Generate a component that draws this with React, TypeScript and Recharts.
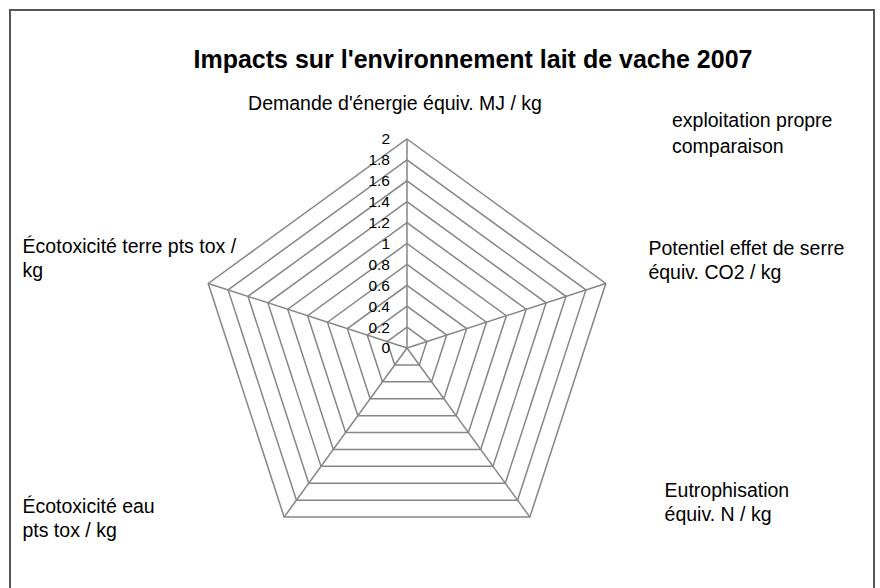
import React from 'react'
import { RadarChart, Radar, PolarGrid, PolarAngleAxis, PolarRadiusAxis, Legend } from 'recharts'

// axes of the radar, '\n' marks where the label wraps
const categories = [
  "Demande d'énergie équiv. MJ / kg",
  'Potentiel effet de serre\néquiv. CO2 / kg',
  'Eutrophisation\néquiv. N / kg',
  'Écotoxicité eau\npts tox / kg',
  'Écotoxicité terre pts tox /\nkg',
]
// nothing is drawn in the reference: every point sits at the centre
const exploitationPropre = [0, 0, 0, 0, 0]
const comparaison = [0, 0, 0, 0, 0]
const seriesNames = ['exploitation propre', 'comparaison']
const radiusDomain = [0, 2]
const radiusTicks = [0, 0.2, 0.4, 0.6, 0.8, 1, 1.2, 1.4, 1.6, 1.8, 2]

const data = categories.map((c, i) => ({
  axis: c,
  propre: exploitationPropre[i],
  comp: comparaison[i],
}))

const FONT = '"Liberation Sans", Arial, sans-serif'

// where each axis label sits relative to the point recharts gives it
const labelPlacement = [
  { anchor: 'middle', dx: -12, dy: -21 },
  { anchor: 'start', dx: 35, dy: -26 },
  { anchor: 'start', dx: 130, dy: -27 },
  { anchor: 'start', dx: -257, dy: -11 },
  { anchor: 'start', dx: -178, dy: -28 },
]

const AngleTick = (props: any) => {
  const { x, y, payload, index } = props
  const p = labelPlacement[index] || { anchor: 'middle', dx: 0, dy: 0 }
  const lines = String(payload.value).split('\n')
  return (
    <text x={x + p.dx} y={y + p.dy} textAnchor={p.anchor} fontSize={19.5} fontFamily={FONT} fill="#000">
      {lines.map((l, i) => (
        <tspan key={i} x={x + p.dx} dy={i === 0 ? 0 : 24}>{l}</tspan>
      ))}
    </text>
  )
}

const RadiusTick = (props: any) => {
  const { x, y, payload } = props
  return (
    <text x={x - 17} y={y} dy="0.35em" textAnchor="end" fontSize={15.5} fontFamily={FONT} fill="#000">
      {payload.value}
    </text>
  )
}

// legend without symbols, in the series order
const LegendText = () => (
  <div style={{ fontFamily: FONT, fontSize: 19.5, lineHeight: '26px', color: '#000' }}>
    {seriesNames.map((n, i) => <div key={i}>{n}</div>)}
  </div>
)

export default function App() {
  return (
    <div style={{ position: 'absolute', left: 0, top: 0, width: 880, height: 588, overflow: 'hidden', background: '#fff' }}>
      <div style={{ position: 'absolute', left: 9, top: 9, width: 866, height: 640, border: '2px solid #555', boxSizing: 'border-box' }} />
      <div style={{ position: 'absolute', left: 0, top: 47, width: 946, textAlign: 'center', fontFamily: FONT, fontSize: 25, fontWeight: 'bold', lineHeight: '25px', color: '#000' }}>
        Impacts sur l'environnement lait de vache 2007
      </div>
      <div style={{ position: 'absolute', left: 0, top: 0 }}>
        <RadarChart width={880} height={588} data={data} cx={407} cy={348} outerRadius={209} margin={{ top: 0, right: 0, bottom: 0, left: 0 }}>
          <PolarGrid gridType="polygon" stroke="#868686" strokeWidth={1.5} />
          <PolarAngleAxis dataKey="axis" tick={AngleTick} tickLine={false} axisLine={false} />
          <PolarRadiusAxis type="number" angle={90} domain={radiusDomain} ticks={radiusTicks} tickCount={radiusTicks.length} allowDecimals axisLine={false} tickLine={false} tick={RadiusTick} />
          <Radar name={seriesNames[0]} dataKey="propre" stroke="#1f4e79" fill="none" isAnimationActive={false} />
          <Radar name={seriesNames[1]} dataKey="comp" stroke="#c0504d" fill="none" isAnimationActive={false} />
          <Legend content={LegendText} wrapperStyle={{ top: 107, left: 672, bottom: 'auto', right: 'auto', width: 'auto', height: 'auto' }} />
        </RadarChart>
      </div>
    </div>
  )
}
